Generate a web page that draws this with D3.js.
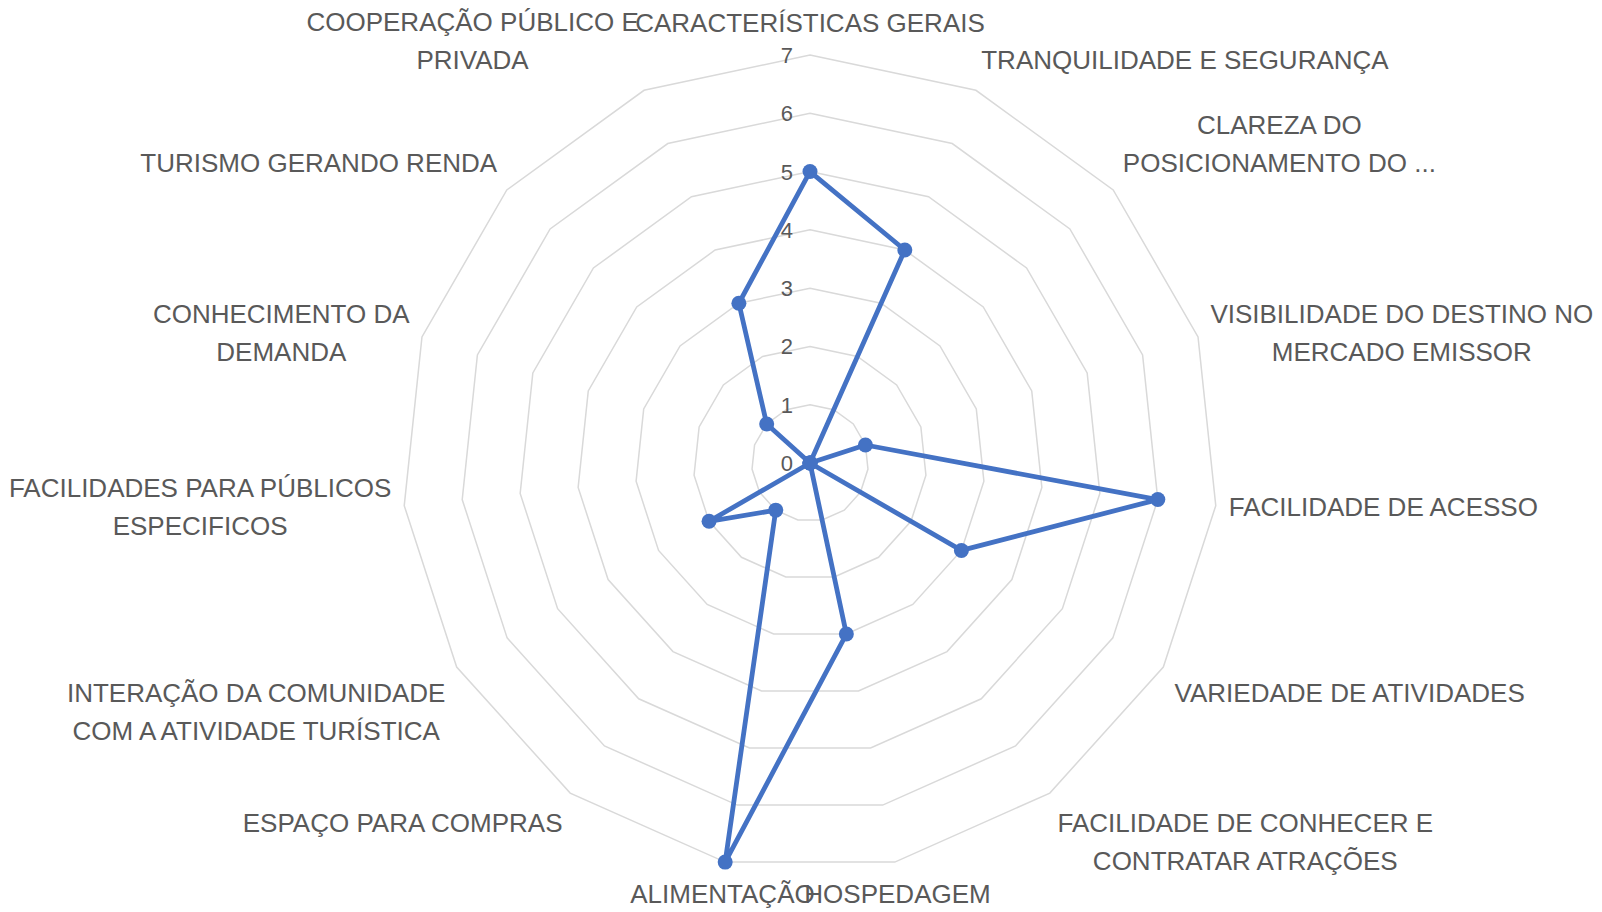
<!DOCTYPE html>
<html>
<head>
<meta charset="utf-8">
<script src="https://cdn.jsdelivr.net/npm/d3@7"></script>
<style>
  html, body { margin: 0; padding: 0; background: #ffffff; }
  svg { display: block; }
</style>
</head>
<body>
<svg id="chart" width="1602" height="912"></svg>
<script>
const categories = [
  "CARACTERÍSTICAS GERAIS",
  "TRANQUILIDADE E SEGURANÇA",
  "CLAREZA DO\nPOSICIONAMENTO DO ...",
  "VISIBILIDADE DO DESTINO NO\nMERCADO EMISSOR",
  "FACILIDADE DE ACESSO",
  "VARIEDADE DE ATIVIDADES",
  "FACILIDADE DE CONHECER E\nCONTRATAR ATRAÇÕES",
  "HOSPEDAGEM",
  "ALIMENTAÇÃO",
  "ESPAÇO PARA COMPRAS",
  "INTERAÇÃO DA COMUNIDADE\nCOM A ATIVIDADE TURÍSTICA",
  "FACILIDADES PARA PÚBLICOS\nESPECIFICOS",
  "CONHECIMENTO DA\nDEMANDA",
  "TURISMO GERANDO RENDA",
  "COOPERAÇÃO PÚBLICO E\nPRIVADA"
];
const values = [5, 4, 0, 1, 6, 3, 0, 3, 7, 1, 2, 0, 0, 1, 3];
const tickValues = [0, 1, 2, 3, 4, 5, 6, 7];
const tickLabels = ["0", "1", "2", "3", "4", "5", "6", "7"];

const cx = 810, cy = 463, R = 408;
const labelGap = 13, lineH = 38;
const font = "'Liberation Sans', Arial, sans-serif";

const svg = d3.select("#chart");
const g = svg.append("g").attr("transform", `translate(${cx},${cy})`);

const n = categories.length;
const angle = d3.scaleLinear().domain([0, n]).range([0, 2 * Math.PI]);
const r = d3.scaleLinear().domain([0, 7]).range([0, R]);

// grid polygons
const gridLine = d3.lineRadial()
  .angle((d, i) => angle(i))
  .radius(d => r(d))
  .curve(d3.curveLinearClosed);

g.append("g").selectAll("path")
  .data(tickValues.filter(t => t > 0))
  .join("path")
  .attr("d", t => gridLine(d3.range(n).map(() => t)))
  .attr("fill", "none")
  .attr("stroke", "#d9d9d9")
  .attr("stroke-width", 1.5);

// tick labels
g.append("g").selectAll("text")
  .data(tickValues)
  .join("text")
  .attr("x", -17)
  .attr("y", t => -r(t))
  .attr("dy", "0.36em")
  .attr("text-anchor", "end")
  .attr("font-family", font)
  .attr("font-size", 22)
  .attr("fill", "#595959")
  .text((t, i) => tickLabels[i]);

// series line
const seriesLine = d3.lineRadial()
  .angle((d, i) => angle(i))
  .radius(d => r(d))
  .curve(d3.curveLinearClosed);

g.append("path")
  .datum(values)
  .attr("d", seriesLine)
  .attr("fill", "none")
  .attr("stroke", "#4472C4")
  .attr("stroke-width", 4.8)
  .attr("stroke-linejoin", "round");

g.append("g").selectAll("circle")
  .data(values)
  .join("circle")
  .attr("cx", (d, i) => r(d) * Math.sin(angle(i)))
  .attr("cy", (d, i) => -r(d) * Math.cos(angle(i)))
  .attr("r", 7.5)
  .attr("fill", "#4472C4");

// category labels
const labelG = g.append("g");
categories.forEach((cat, i) => {
  const th = angle(i);
  const s = Math.sin(th), c = Math.cos(th);
  const ax = (R + labelGap) * s, ay = -(R + labelGap) * c;
  const lines = cat.split("\n");
  const tg = labelG.append("g");
  const texts = lines.map(line => tg.append("text")
    .attr("font-family", font)
    .attr("font-size", 26)
    .attr("fill", "#595959")
    .attr("text-anchor", "middle")
    .text(line));
  const w = d3.max(texts, t => t.node().getComputedTextLength());
  const h = lines.length * lineH;
  let midX;
  if (s > 0.3) midX = ax + w / 2;
  else if (s < -0.3) midX = ax - w / 2;
  else midX = ax;
  let top;
  if (c > 0.4) top = ay - h;
  else if (c < -0.4) top = ay;
  else top = ay - h / 2;
  texts.forEach((t, k) => {
    t.attr("x", midX)
     .attr("y", top + lineH * (k + 0.5))
     .attr("dy", "0.36em");
  });
});
</script>
</body>
</html>
